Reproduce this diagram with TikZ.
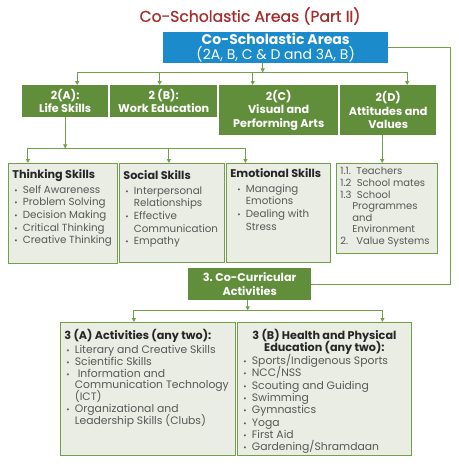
\documentclass[tikz,border=0pt]{standalone}
\usepackage{fontspec}
\setmainfont{Poppins}
\usetikzlibrary{arrows.meta,calc}

\definecolor{areablue}{RGB}{27,139,203}
\definecolor{areagreen}{RGB}{96,142,58}
\definecolor{linkgreen}{RGB}{112,160,72}
\definecolor{panefill}{RGB}{233,237,227}
\definecolor{itemgray}{RGB}{88,88,88}
\definecolor{titlered}{RGB}{168,42,42}

% bullet line with hanging indent
\newcommand{\bitem}{\par\noindent\hangindent=10.5pt\hangafter=1\makebox[10.5pt][l]{\hspace{2pt}{\footnotesize\textbullet}}}
% line break that keeps the hanging indent
\newcommand{\nl}{\hfil\break}
% text block of a pane: width, height, body
\newcommand{\panetext}[3]{\parbox[c][#2][t]{#1}{\lineskiplimit=-20pt\fontsize{10.3}{12.7}\selectfont\color{itemgray}\raggedright #3}}
\newcommand{\panehead}[1]{{\fontsize{11.2}{12.6}\selectfont\bfseries\color{black!85}#1}\par\vspace{2pt}}

\begin{document}
\begin{tikzpicture}[x=1pt, y=-1pt, >={Triangle[length=4pt,width=4pt]}]

% styles
\tikzset{
  headbox/.style={fill=areablue, text=white, anchor=north west, inner sep=0pt,
    align=center, font=\fontsize{14}{14.5}\selectfont},
  areabox/.style={fill=areagreen, text=white, anchor=north west, inner sep=0pt,
    align=center, font=\fontsize{11.2}{13.3}\selectfont\bfseries},
  pane/.style={draw=linkgreen, line width=0.8pt, fill=panefill, anchor=north west,
    inner xsep=4pt, inner ysep=4pt},
  link/.style={draw=linkgreen, line width=0.9pt},
  arr/.style={link, ->},
}

\useasboundingbox (0,0) rectangle (458,466);

% title
\node[text=titlered, font=\fontsize{15.6}{17}\selectfont\addfontfeature{FakeBold=0.7}] (title) at (250,16) {Co-Scholastic Areas (Part II)};

% top box
\node[headbox, minimum width=225pt, minimum height=31pt] (coarea) at (163,32)
  {{\bfseries Co-Scholastic Areas}\\(2A, B, C \& D and 3A, B)};

% areas 2(A)--2(D)
\node[areabox, minimum width=86pt, minimum height=32pt] (lifeA) at (22,85) {2(A):\\Life Skills};
\node[areabox, minimum width=107pt, minimum height=32pt] (workB) at (110,85) {2 (B):\\Work Education};
\node[areabox, minimum width=119pt, minimum height=50pt] (visC) at (219,85) {2(C)\\Visual and\\Performing Arts};
\node[areabox, minimum width=96pt, minimum height=50pt] (attD) at (340,85) {2(D)\\Attitudes and\\Values};

% life skills panes
\node[pane] (think) at (8,163) {\panetext{101pt}{92pt}{%
  \vspace*{2pt}\panehead{Thinking Skills}
  \bitem Self Awareness
  \bitem Problem Solving
  \bitem Decision Making
  \bitem Critical Thinking
  \bitem Creative Thinking}};
\node[pane] (social) at (119,163) {\panetext{97pt}{91pt}{%
  \vspace*{3pt}\panehead{Social Skills}
  \bitem Interpersonal\nl Relationships
  \bitem Effective\nl Communication
  \bitem Empathy}};
\node[pane] (emot) at (226,163) {\panetext{96pt}{91pt}{%
  \vspace*{1pt}\panehead{Emotional Skills}
  \leftskip=5pt
  \bitem Managing\nl Emotions
  \bitem Dealing with\nl Stress}};

% values pane
\node[pane] (valD) at (336,163) {\panetext{93pt}{82pt}{%
  \fontsize{10}{11.6}\selectfont
  \noindent 1.1.\ \ Teachers
  \par\noindent 1.2\ \ School mates
  \par\noindent\hangindent=12pt\hangafter=1 1.3\ \ School\nl Programmes\nl and\nl Environment
  \par\noindent 2.\ \ \ Value Systems}};

% co-curricular
\node[areabox, minimum width=123pt, minimum height=32pt] (cocur) at (188,268) {3.\ Co-Curricular\\Activities};

\node[pane] (actA) at (60,322) {\panetext{167pt}{125pt}{%
  \fontsize{10.8}{11.8}\selectfont
  \vspace*{3pt}\panehead{3 (A) Activities (any two):}
  \bitem Literary and Creative Skills
  \bitem Scientific Skills
  \bitem \ Information and\nl Communication Technology\nl (ICT)
  \bitem Organizational and\nl Leadership Skills (Clubs)}};
\node[pane] (healthB) at (237,322) {\panetext{166pt}{125pt}{%
  \fontsize{10.8}{12.3}\selectfont
  \vspace*{3pt}
  {\centering\fontsize{11.2}{11.6}\selectfont\bfseries\color{black!85}3 (B) Health and Physical\\Education (any two):\par}
  \vspace{1pt}
  \bitem Sports/Indigenous Sports
  \bitem NCC/NSS
  \bitem Scouting and Guiding
  \bitem Swimming
  \bitem Gymnastics
  \bitem Yoga
  \bitem First Aid
  \bitem Gardening/Shramdaan}};

% buses
\coordinate (busA) at ($(coarea.south)+(-13,9)$);
\coordinate (busB) at ($(lifeA.south)+(0,31)$);
\coordinate (busC) at ($(cocur.south)+(-2,10)$);

% connectors from the top box
\draw[arr] (coarea.south -| busA) -- (busA);
\draw[arr] (busA) -| ([xshift=12pt]lifeA.north);
\draw[arr] (busA) -| ([xshift=-4pt]workB.north);
\draw[arr] (busA) -| ([xshift=-26pt]visC.north);
\draw[arr] (busA) -| ([xshift=19pt]attD.north);
\draw[link] (coarea.east) -- ++(62,0) |- (cocur.east);

% connectors from 2(A) and 2(D)
\draw[arr] (lifeA.south) -- (busB);
\draw[arr] (busB) -| ([xshift=-35pt]think.north);
\draw[arr] (busB) -| ([xshift=-3pt]social.north);
\draw[arr] (busB) -| ([xshift=-33pt]emot.north);
\draw[arr] ([xshift=-6pt]attD.south) -- ([xshift=-6pt]attD.south |- valD.north);

% connectors from co-curricular
\draw[arr] (cocur.south -| busC) -- (busC);
\draw[arr] (busC) -| ([xshift=-14pt]actA.north);
\draw[arr] (busC) -| ([xshift=58pt]healthB.north);

\end{tikzpicture}
\end{document}
